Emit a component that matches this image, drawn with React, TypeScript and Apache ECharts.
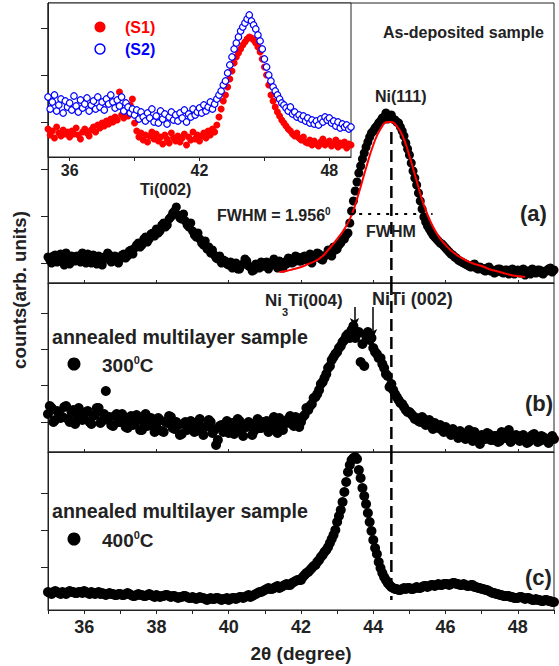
import React, { useEffect, useRef } from "react";
import * as echarts from "echarts";

// sampling grids of 2θ (degree)
const MAIN_START = 35;
const MAIN_STEP = 0.05; // main panels (a), (b), (c)
const INSET_START = 35;
const INSET_STEP = 0.1; // inset

// (a) as-deposited multilayer, counts (arb.), one row per degree (35 … 48.95, then 49)
const asDeposited = [
  26, 23, 20, 27, 28, 21, 22, 29, 25, 18, 30, 24, 19, 27, 24, 22, 27, 25, 21, 30,
  25, 20, 29, 26, 20, 28, 23, 19, 27, 24, 18, 26, 24, 30, 28, 21, 22, 27, 26, 20,
  24, 28, 29, 25, 27, 32, 33, 29, 35, 38, 40, 36, 38, 44, 46, 41, 44, 49, 50, 47,
  54, 50, 52, 58, 60, 56, 58, 64, 66, 70, 72, 76, 68, 65, 64, 69, 62, 58, 56, 60,
  52, 48, 46, 50, 44, 40, 38, 42, 34, 36, 30, 33, 28, 25, 24, 27, 20, 23, 22, 19,
  18, 21, 15, 19, 20, 14, 14, 18, 19, 24, 22, 17, 16, 12, 13, 19, 18, 15, 21, 17,
  17, 21, 14, 18, 20, 24, 18, 15, 22, 19, 15, 21, 19, 25, 24, 20, 21, 27, 26, 22,
  22, 26, 27, 23, 24, 29, 20, 25, 26, 30, 29, 24, 23, 27, 28, 33, 31, 27, 36, 33,
  34, 38, 40, 44, 44, 48, 50, 60, 72, 82, 92, 101, 110, 117, 124, 130, 136, 141, 146, 150,
  152, 155, 157, 160, 162, 165, 166, 170, 164, 167, 168, 164, 163, 161, 160, 156, 152, 147, 140, 134,
  128, 120, 112, 105, 98, 90, 82, 74, 66, 61, 57, 54, 51, 48, 46, 44, 42, 40, 39, 37,
  35, 33, 31, 29, 28, 26, 25, 23, 22, 21, 20, 19, 18, 17, 16, 18, 19, 15, 14, 16,
  15, 13, 12, 15, 16, 12, 13, 10, 11, 14, 14, 11, 10, 13, 13, 9, 12, 14, 9, 11,
  13, 10, 11, 14, 8, 12, 12, 9, 14, 11, 10, 13, 13, 10, 9, 12, 12, 14, 15, 11,
  13,
];

// (a) fitted Ni(111) profile
const fitX = [41.4, 41.6, 41.8, 42.0, 42.2, 42.4, 42.6, 42.8, 43.0, 43.2, 43.4, 43.6, 43.8, 44.0, 44.2, 44.4, 44.5, 44.6, 44.8, 45.0, 45.2, 45.4, 45.6, 45.8, 46.0, 46.2, 46.4, 46.6, 46.8, 47.0, 47.2, 47.4, 47.6, 47.8, 48.0, 48.2];
const fitY = [11, 12, 14, 16, 19, 22, 27, 35, 44, 54, 68, 90, 115, 138, 154, 161, 161, 159, 148, 127, 102, 78, 60, 47, 38, 31, 26, 22, 19, 17, 14, 12, 10, 8, 7, 6];

// (b) annealed at 300 °C
const annealed300 = [
  38, 46, 44, 30, 32, 41, 40, 34, 35, 45, 46, 33, 30, 40, 42, 28, 36, 44, 39, 32,
  33, 40, 41, 30, 28, 36, 37, 44, 44, 29, 31, 38, 61, 33, 35, 27, 26, 36, 38, 30,
  30, 38, 34, 25, 24, 33, 36, 27, 28, 37, 33, 22, 22, 30, 38, 26, 27, 34, 31, 20,
  25, 34, 32, 21, 20, 30, 29, 36, 35, 24, 23, 30, 27, 17, 18, 28, 30, 22, 24, 31,
  28, 20, 21, 30, 33, 24, 17, 25, 26, 32, 30, 19, 22, 7, 12, 26, 27, 20, 24, 31,
  19, 27, 29, 18, 23, 33, 31, 22, 16, 26, 25, 30, 28, 17, 21, 29, 33, 24, 24, 30,
  27, 31, 20, 24, 31, 35, 25, 19, 34, 28, 22, 30, 29, 33, 36, 28, 26, 35, 32, 25,
  30, 35, 37, 44, 42, 46, 48, 54, 55, 58, 62, 68, 70, 74, 78, 84, 86, 92, 95, 98,
  100, 104, 106, 110, 112, 116, 118, 114, 122, 126, 114, 118, 120, 90, 108, 86, 116, 120, 112, 114,
  104, 100, 98, 94, 94, 88, 84, 78, 76, 65, 68, 62, 58, 55, 52, 49, 48, 45, 42, 40,
  40, 38, 36, 33, 34, 31, 30, 35, 33, 27, 28, 32, 26, 23, 29, 25, 24, 27, 22, 20,
  25, 22, 20, 17, 23, 20, 18, 14, 21, 18, 16, 13, 19, 22, 14, 11, 20, 17, 15, 8,
  17, 14, 13, 19, 18, 12, 12, 16, 16, 10, 11, 20, 15, 14, 19, 22, 10, 12, 14, 17,
  16, 11, 12, 17, 15, 9, 10, 14, 17, 18, 13, 10, 11, 16, 15, 12, 12, 9, 14, 16,
  13,
];

// (c) annealed at 400 °C
const annealed400 = [
  18, 17, 16, 18, 19, 18, 17, 16, 18, 17, 16, 18, 19, 18, 18, 17, 17, 18, 18, 17,
  19, 18, 17, 16, 18, 17, 16, 17, 18, 16, 17, 16, 15, 16, 17, 16, 16, 15, 15, 16,
  16, 15, 15, 16, 17, 16, 15, 14, 14, 15, 16, 15, 15, 14, 14, 15, 16, 15, 14, 13,
  15, 14, 13, 14, 14, 15, 15, 14, 13, 14, 14, 13, 12, 13, 13, 14, 14, 13, 12, 12,
  13, 12, 11, 12, 13, 12, 12, 11, 10, 11, 12, 11, 11, 12, 12, 11, 10, 11, 11, 12,
  10, 11, 12, 12, 11, 12, 13, 13, 12, 13, 14, 15, 13, 14, 15, 16, 17, 18, 18, 19,
  20, 21, 22, 21, 21, 22, 23, 24, 22, 23, 24, 25, 26, 25, 25, 27, 28, 29, 30, 30,
  30, 33, 35, 37, 38, 40, 42, 44, 45, 48, 50, 53, 55, 58, 60, 63, 67, 71, 75, 80,
  88, 94, 100, 108, 118, 128, 138, 145, 150, 152, 153, 151, 140, 132, 122, 114, 106, 97, 88, 79,
  70, 62, 56, 48, 42, 37, 33, 30, 27, 25, 23, 22, 21, 21, 20, 20, 21, 22, 21, 22,
  22, 21, 21, 22, 23, 22, 22, 23, 24, 24, 23, 24, 25, 25, 24, 25, 26, 25, 25, 26,
  26, 26, 25, 26, 27, 27, 26, 26, 25, 25, 26, 25, 24, 24, 25, 25, 23, 23, 22, 22,
  21, 21, 20, 20, 19, 18, 17, 17, 16, 16, 15, 15, 14, 14, 14, 14, 13, 13, 12, 12,
  12, 13, 13, 12, 11, 12, 12, 11, 10, 10, 11, 10, 10, 9, 9, 10, 10, 9, 9, 8,
  8,
];

// inset: sample S1 (35.0 … 49.0 every 0.1)
const insetS1 = [
  28, 22, 26, 19, 30, 24, 21, 27, 23, 25,
  20, 26, 23, 29, 22, 18, 25, 28, 24, 21,
  27, 30, 25, 32, 29, 34, 31, 36, 33, 38,
  35, 40, 37, 65, 42, 39, 44, 41, 52, 58,
  34, 26, 20, 24, 17, 22, 15, 21, 25, 18,
  23, 16, 20, 13, 22, 18, 14, 24, 19, 16,
  21, 15, 19, 23, 12, 20, 17, 25, 18, 22,
  16, 21, 24, 19, 26, 22, 28, 25, 32, 40,
  48, 56, 62, 70, 78, 86, 94, 100, 104, 108,
  112, 115, 118, 120, 119, 117, 114, 110, 105, 98,
  90, 82, 72, 62, 56, 50, 45, 41, 37, 34,
  31, 28, 26, 23, 21, 24, 19, 17, 20, 15,
  14, 17, 12, 16, 13, 11, 15, 18, 12, 14,
  16, 11, 13, 17, 10, 14, 12, 15, 9, 13,
  12,
];

// inset: sample S2
const insetS2 = [
  60, 48, 55, 62, 46, 52, 58, 44, 56, 50,
  54, 47, 61, 51, 45, 57, 49, 53, 59, 46,
  52, 56, 48, 60, 50, 55, 47, 58, 53, 62,
  55, 49, 57, 51, 60, 46, 54, 50, 44, 48,
  42, 47, 38, 45, 40, 36, 44, 39, 48, 35,
  41, 34, 46, 38, 43, 33, 40, 45, 37, 42,
  36, 44, 39, 47, 35, 43, 40, 48, 42, 45,
  49, 44, 52, 46, 50, 55, 48, 53, 58, 62,
  66, 72, 76, 84, 92, 100, 108, 114, 120, 126,
  130, 134, 138, 142, 136, 132, 128, 122, 116, 108,
  98, 90, 82, 76, 70, 66, 62, 58, 54, 52,
  49, 46, 50, 43, 45, 40, 42, 38, 41, 36,
  39, 34, 37, 33, 36, 32, 38, 35, 40, 37,
  39, 34, 36, 31, 35, 29, 33, 30, 32, 28,
  30,
];

const xMainTicks = [36, 38, 40, 42, 44, 46, 48];
const xInsetLabels = [36, 42, 48];
const xInsetTicks = [36, 39, 42, 45, 48];
const yTicksA = [20, 67, 114, 161, 208, 255];
const yTicksB = [30, 67, 103, 139];
const yTicksC = [43, 80, 117];

const NI_LINE = 44.5; // Ni(111) reference position
const FWHM_LEVEL = 69;
const FWHM_LEFT = 43.36;
const FWHM_RIGHT = 45.64;
const ARROW_NI3TI = 43.48;
const ARROW_NITI = 43.98;

const FONT = "'Liberation Sans', Arial, Helvetica, sans-serif";
const INK = "#222";

const toPairs = (ys: number[], start: number, step: number) =>
  ys.map((y, i) => [+(start + i * step).toFixed(2), y]);

function txt(x: number, y: number, text: string, size: number, extra: any = {}) {
  return {
    type: "text",
    x,
    y,
    z: 50,
    style: {
      text,
      fontFamily: FONT,
      fontWeight: "bold",
      fontSize: size,
      fill: INK,
      align: "left",
      verticalAlign: "middle",
      ...extra,
    },
  };
}

function supText(x: number, y: number, main: string, sup: string, tail: string, size: number) {
  return {
    type: "text",
    x,
    y,
    z: 50,
    style: {
      text: `{a|${main}}{s|${sup}}{a|${tail}}`,
      align: "left",
      verticalAlign: "middle",
      rich: {
        a: { fontFamily: FONT, fontWeight: "bold", fontSize: size, fill: INK, color: INK, lineHeight: size + 2 },
        s: { fontFamily: FONT, fontWeight: "bold", fontSize: Math.round(size * 0.6), fill: INK, color: INK, lineHeight: Math.round(size * 0.6), verticalAlign: "top" },
      },
    },
  };
}

export default function App() {
  const ref = useRef<HTMLDivElement>(null);

  useEffect(() => {
    if (!ref.current) return;
    const chart = echarts.init(ref.current, undefined, { renderer: "svg" });

    const gridBase = {
      show: true,
      borderColor: INK,
      borderWidth: 1,
      backgroundColor: "transparent",
      containLabel: false,
    };
    const mainX = (gridIndex: number, withLabels: boolean) => ({
      type: "value",
      gridIndex,
      min: 35,
      max: 49,
      interval: 1,
      axisLine: { show: true, onZero: false, lineStyle: { color: INK, width: 1 } },
      axisTick: withLabels
        ? { show: true, inside: false, length: 4, lineStyle: { color: INK } }
        : { show: true, inside: true, length: 3, customValues: xMainTicks, lineStyle: { color: INK } },
      axisLabel: withLabels
        ? {
            show: true,
            margin: 8,
            fontFamily: FONT,
            fontWeight: "bold",
            fontSize: 18,
            color: INK,
            formatter: (v: number) => (xMainTicks.includes(v) ? String(v) : ""),
          }
        : { show: false },
      splitLine: { show: false },
    });
    const mainY = (gridIndex: number, max: number, ticks: number[]) => ({
      type: "value",
      gridIndex,
      min: 0,
      max,
      axisLine: { show: true, onZero: false, lineStyle: { color: INK, width: 1 } },
      axisTick: { show: true, inside: false, length: 7, customValues: ticks, lineStyle: { color: INK } },
      axisLabel: { show: false },
      splitLine: { show: false },
    });

    const vline = (xi: number, top: number, bottom: number) => ({
      type: "line",
      xAxisIndex: xi,
      yAxisIndex: xi,
      data: [
        [NI_LINE, top],
        [NI_LINE, bottom],
      ],
      showSymbol: false,
      symbol: "none",
      z: 5,
      lineStyle: { color: "#000", width: 2.5, type: [12, 6] },
      silent: true,
    });

    const dots = (xi: number, ys: number[], size: number) => ({
      type: "scatter",
      xAxisIndex: xi,
      yAxisIndex: xi,
      data: toPairs(ys, MAIN_START, MAIN_STEP),
      symbolSize: size,
      itemStyle: { color: "#000", opacity: 1 },
      z: 3,
    });

    chart.setOption({
      animation: false,
      backgroundColor: "#fff",
      grid: [
        { ...gridBase, left: 48, top: 3, width: 506, height: 280 },
        { ...gridBase, left: 48, top: 283, width: 506, height: 169 },
        { ...gridBase, left: 48, top: 452, width: 506, height: 158 },
        { ...gridBase, left: 48, top: 3, width: 303, height: 154, backgroundColor: "#fff" },
      ],
      xAxis: [
        mainX(0, false),
        mainX(1, false),
        mainX(2, true),
        {
          type: "value",
          gridIndex: 3,
          min: 35,
          max: 49,
          axisLine: { show: true, onZero: false, lineStyle: { color: INK } },
          axisTick: { show: true, inside: false, length: 4, customValues: xInsetTicks, lineStyle: { color: INK } },
          axisLabel: {
            show: true,
            customValues: xInsetLabels,
            margin: 5,
            fontFamily: FONT,
            fontWeight: "bold",
            fontSize: 16,
            color: INK,
          },
          splitLine: { show: false },
        },
      ],
      yAxis: [
        mainY(0, 280, yTicksA),
        mainY(1, 169, yTicksB),
        mainY(2, 158, yTicksC),
        {
          type: "value",
          gridIndex: 3,
          min: 0,
          max: 154,
          axisLine: { show: true, onZero: false, lineStyle: { color: INK } },
          axisTick: { show: false },
          axisLabel: { show: false },
          splitLine: { show: false },
        },
      ],
      series: [
        dots(0, asDeposited, 9),
        {
          type: "line",
          xAxisIndex: 0,
          yAxisIndex: 0,
          data: fitX.map((x, i) => [x, fitY[i]]),
          smooth: true,
          showSymbol: false,
          symbol: "none",
          z: 4,
          lineStyle: { color: "#ff0000", width: 2 },
        },
        {
          type: "line",
          xAxisIndex: 0,
          yAxisIndex: 0,
          data: [
            [FWHM_LEFT, FWHM_LEVEL],
            [FWHM_RIGHT, FWHM_LEVEL],
          ],
          showSymbol: false,
          symbol: "none",
          z: 5,
          lineStyle: { color: "#000", width: 2, type: [3, 6] },
        },
        vline(0, 151, 0),
        {
          ...dots(1, annealed300, 10),
          markLine: {
            silent: true,
            symbol: ["none", "arrow"],
            symbolSize: [7, 10],
            label: { show: false },
            lineStyle: { color: "#000", width: 1.5, type: "solid" },
            data: [
              [{ coord: [ARROW_NI3TI, 145] }, { coord: [ARROW_NI3TI, 124] }],
              [{ coord: [ARROW_NITI, 145] }, { coord: [ARROW_NITI, 113] }],
            ],
          },
        },
        vline(1, 169, 0),
        dots(2, annealed400, 10),
        vline(2, 158, 10),
        {
          type: "scatter",
          xAxisIndex: 3,
          yAxisIndex: 3,
          data: toPairs(insetS1, INSET_START, INSET_STEP),
          symbolSize: 7,
          itemStyle: { color: "#ff0000", opacity: 1 },
          z: 6,
        },
        {
          type: "scatter",
          xAxisIndex: 3,
          yAxisIndex: 3,
          data: toPairs(insetS2, INSET_START, INSET_STEP),
          symbolSize: 6.5,
          itemStyle: { color: "#fff", borderColor: "#0000ff", borderWidth: 1.2, opacity: 1 },
          z: 7,
        },
      ],
      graphic: [
        txt(383, 32, "As-deposited sample", 16),
        txt(375, 96, "Ni(111)", 16),
        txt(140, 189, "Ti(002)", 16),
        supText(217, 215, "FWHM = 1.956", "0", "", 16),
        txt(366, 231, "FWHM", 16),
        txt(520, 213, "(a)", 22),
        txt(525, 403, "(b)", 22),
        txt(525, 577, "(c)", 22),
        {
          type: "text",
          x: 265,
          y: 300,
          z: 50,
          style: {
            text: "{a|Ni}{b|3}{a|Ti(004)}",
            align: "left",
            verticalAlign: "middle",
            rich: {
              a: { fontFamily: FONT, fontWeight: "bold", fontSize: 17, fill: INK, color: INK, lineHeight: 34 },
              b: { fontFamily: FONT, fontWeight: "bold", fontSize: 11, fill: INK, color: INK, lineHeight: 12, verticalAlign: "bottom" },
            },
          },
        },
        txt(372, 299, "NiTi (002)", 18),
        txt(52, 337, "annealed multilayer sample", 19.6),
        supText(102, 365, "300", "0", "C", 19),
        txt(52, 511, "annealed multilayer sample", 19.6),
        supText(102, 540, "400", "0", "C", 19),
        { type: "circle", shape: { cx: 74, cy: 364, r: 6.5 }, style: { fill: "#000" }, z: 50 },
        { type: "circle", shape: { cx: 74, cy: 539, r: 6.5 }, style: { fill: "#000" }, z: 50 },
        { type: "circle", shape: { cx: 100, cy: 27, r: 5.5 }, style: { fill: "#ff0000" }, z: 50 },
        { type: "circle", shape: { cx: 100, cy: 49, r: 5 }, style: { fill: "#fff", stroke: "#0000ff", lineWidth: 1.5 }, z: 50 },
        txt(125, 27, "(S1)", 16, { fill: "#ff0000" }),
        txt(125, 49, "(S2)", 16, { fill: "#0000ff" }),
        txt(301, 653, "2θ (degree)", 19, { align: "center" }),
        {
          type: "text",
          x: 19,
          y: 290,
          rotation: Math.PI / 2,
          z: 50,
          style: {
            text: "counts(arb. units)",
            fontFamily: FONT,
            fontWeight: "bold",
            fontSize: 18.7,
            fill: INK,
            align: "center",
            verticalAlign: "middle",
          },
        },
      ],
    });

    return () => chart.dispose();
  }, []);

  return (
    <div
      ref={ref}
      style={{ position: "absolute", left: 0, top: 0, width: 559, height: 666 }}
    />
  );
}
